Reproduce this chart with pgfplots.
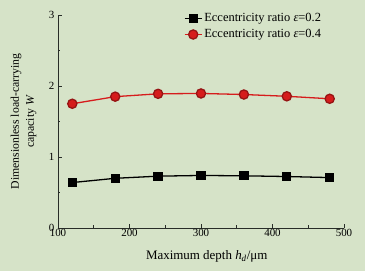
\documentclass[border=0pt]{standalone}
\usepackage{fontspec}
\setmainfont{Liberation Serif}
\usepackage{pgfplots}
\pgfplotsset{compat=1.18}
\definecolor{bgc}{RGB}{214,227,200}
\definecolor{redc}{RGB}{214,28,28}
\definecolor{redd}{RGB}{150,20,20}
\definecolor{axc}{RGB}{40,45,40}
\begin{document}
\begin{tikzpicture}[x=1bp,y=1bp]
\fill[bgc] (0,0) rectangle (365,271);
\useasboundingbox (0,0) rectangle (365,271);
\begin{axis}[
  at={(58bp,43bp)}, anchor=south west,
  scale only axis, width=286bp, height=213bp,
  xmin=100, xmax=500, ymin=0, ymax=3,
  xtick={100,200,300,400,500}, ytick={0,1,2,3},
  minor x tick num=1, minor y tick num=1,
  axis lines*=left,
  axis line style={axc, line width=0.9pt},
  tick style={axc, line width=0.7pt},
  major tick length=4bp, minor tick length=2.5bp,
  tick align=inside,
  /pgf/number format/assume math mode=true,
  ticklabel style={font=\fontsize{11}{12}\selectfont},
  xticklabel style={inner sep=1bp, yshift=-0.5bp},
  yticklabel style={inner sep=1bp, xshift=-2.5bp},
  xlabel={Maximum depth \textit{h}\textsubscript{\textit{d}}/μm},
  ylabel={Dimensionless load-carrying\\capacity \textit{W}},
  xlabel style={font=\fontsize{13}{15}\selectfont, at={(axis description cs:0.52,-0.105)}, anchor=north, inner sep=0pt},
  ylabel style={font=\fontsize{11.8}{15}\selectfont, align=center, at={(axis description cs:-0.075,0.5)}, anchor=south, inner sep=0pt},
  legend style={draw=none, fill=none, at={(axis description cs:0.44,1.018)}, anchor=north west, font=\fontsize{12.5}{14}\selectfont, row sep=2.5bp, inner sep=0pt},
  legend cell align=left,
]
\addplot[black, line width=1.3pt, mark=square*, mark size=4bp, mark options={solid, fill=black}] coordinates {
(120,0.64) (180,0.70) (240,0.73) (300,0.74) (360,0.735) (420,0.725) (480,0.71)};
\addlegendentry{Eccentricity ratio \textit{ε}=0.2}
\addplot[redc, line width=1.3pt, mark=*, mark size=4.6bp, mark options={solid, fill=redc, draw=redd}] coordinates {
(120,1.75) (180,1.85) (240,1.89) (300,1.895) (360,1.88) (420,1.855) (480,1.82)};
\addlegendentry{Eccentricity ratio \textit{ε}=0.4}
\end{axis}
\end{tikzpicture}
\end{document}
